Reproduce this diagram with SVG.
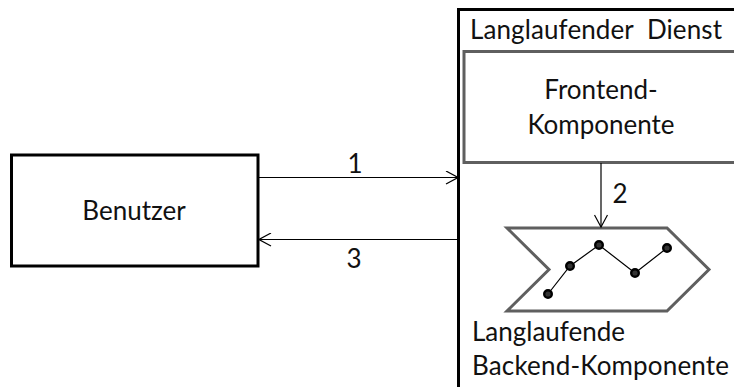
<svg xmlns="http://www.w3.org/2000/svg" width="734" height="387" viewBox="0 0 734 387">
<style>
text{font-family:"Lato","Liberation Sans",sans-serif;font-size:26px;fill:#111;white-space:pre}
.m{text-anchor:middle}
.k{fill:none;stroke:#000;stroke-width:3}
.g{fill:#fff;stroke:#5f5f5f;stroke-width:3}
.c{fill:none;stroke:#000;stroke-width:1.2}
.d{fill:#333;stroke:#000;stroke-width:2.4}
</style>
<defs><marker id="a" viewBox="0 0 14 14" refX="13" refY="7" markerWidth="14" markerHeight="14" markerUnits="userSpaceOnUse" orient="auto"><path d="M1 0.500L13 7L1 13.500" fill="none" stroke="#000" stroke-width="1.2"/></marker></defs>
<rect width="734" height="387" fill="#fff"/>
<g id="dienst"><path class="k" d="M734 9.500H458.500V387"/><text x="470" y="39" textLength="252" lengthAdjust="spacing">Langlaufender  Dienst</text></g>
<g id="frontend"><rect class="g" x="464" y="51.500" width="280" height="111"/><text class="m" x="601" y="99">Frontend-</text><text class="m" x="601" y="134">Komponente</text></g>
<g id="benutzer"><rect class="k" x="11.500" y="155" width="246.500" height="111"/><text class="m" x="134" y="220">Benutzer</text></g>
<g id="backend"><path class="g" d="M507 228H667L709 269.500L667 311H507L549 269.500Z"/>
<path d="M548 294L570 266L599 245L635 273L667 248" fill="none" stroke="#000" stroke-width="1.200"/>
<circle class="d" cx="548" cy="294" r="3.800"/><circle class="d" cx="570" cy="266" r="3.800"/><circle class="d" cx="599" cy="245" r="3.800"/><circle class="d" cx="635" cy="273" r="3.800"/><circle class="d" cx="667" cy="248" r="3.800"/>
<text x="472" y="341">Langlaufende</text><text x="472" y="375" textLength="257" lengthAdjust="spacing">Backend-Komponente</text></g>
<g id="connectors"><path class="c" d="M258 177.500H458" marker-end="url(#a)"/><path class="c" d="M458 239.500H259" marker-end="url(#a)"/><path class="c" d="M601 163V227" marker-end="url(#a)"/></g>
<g id="labels"><text class="m" x="355" y="173">1</text><text class="m" x="354" y="268">3</text><text class="m" x="620" y="203">2</text></g>
</svg>
